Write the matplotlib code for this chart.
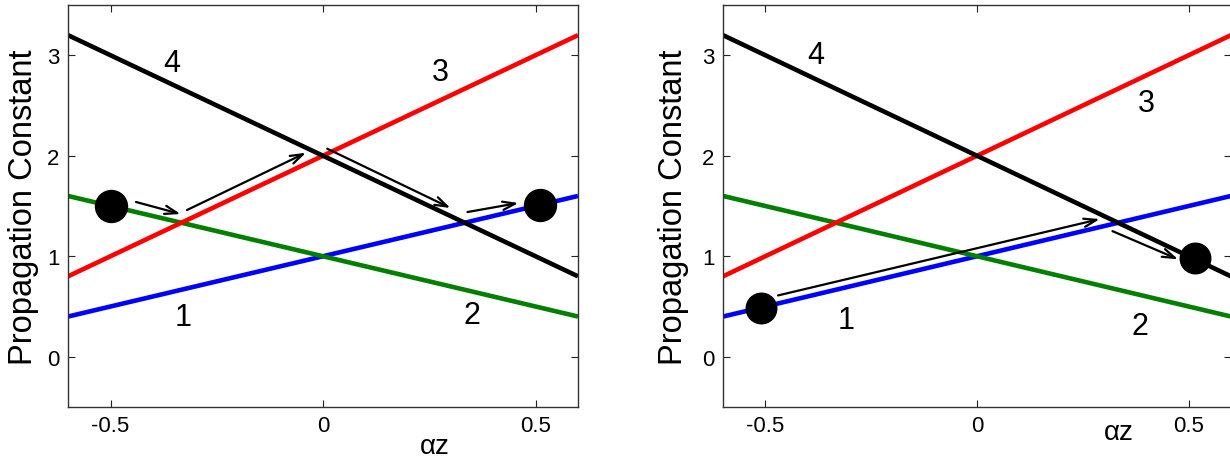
import numpy as np
import matplotlib
matplotlib.use('Agg')
import matplotlib.pyplot as plt

plt.rcParams['font.family'] = ['Liberation Sans', 'DejaVu Sans']

# mode curves, endpoints at az = -0.6 and 0.6
z = [-0.6, 0.6]
beta1 = [0.4, 1.6]
beta2 = [1.6, 0.4]
beta3 = [0.8, 3.2]
beta4 = [3.2, 0.8]
curves = [beta1, beta2, beta3, beta4]
colors = ['#0000ff', '#007f00', '#ff0000', '#000000']

# left panel: start/end dots, arrows and curve numbers
dots_left_z = [-0.5, 0.51]
dots_left_b = [1.5, 1.51]
arrows_left = [((-0.44, 1.54), (-0.335, 1.42)),
               ((-0.32, 1.46), (-0.04, 2.03)),
               ((0.01, 2.07), (0.30, 1.48)),
               ((0.34, 1.44), (0.46, 1.53))]
labels_left = [('1', -0.33, 0.40), ('2', 0.35, 0.42), ('3', 0.276, 2.83), ('4', -0.355, 2.92)]

# right panel
dots_right_z = [-0.51, 0.515]
dots_right_b = [0.49, 0.98]
arrows_right = [((-0.47, 0.61), (0.29, 1.37)),
                ((0.32, 1.25), (0.475, 0.97))]
labels_right = [('1', -0.31, 0.37), ('2', 0.385, 0.31), ('3', 0.40, 2.52), ('4', -0.38, 3.0)]

fig = plt.figure(figsize=(12.3, 4.6), dpi=100)
ax1 = fig.add_axes([68/1230, 52/460, 510/1230, 402/460])
ax2 = fig.add_axes([723/1230, 52/460, 508/1230, 402/460])


def draw(ax, dz, db, arrows, labels, xlab_pos, ylab_x, msize):
    for b, c in zip(curves, colors):
        ax.plot(z, b, color=c, lw=3.3, solid_capstyle='butt')
    ax.plot(dz, db, 'o', color='black', ms=msize, zorder=5)
    for (x0, y0), (x1, y1) in arrows:
        ax.annotate('', xy=(x1, y1), xytext=(x0, y0),
                    arrowprops=dict(arrowstyle='->,head_length=0.9,head_width=0.3',
                                    color='black', lw=1.6, shrinkA=0, shrinkB=0),
                    zorder=6)
    for t, x, y in labels:
        ax.text(x, y, t, fontsize=22, ha='center', va='center')
    ax.set_xlim(-0.6, 0.6)
    ax.set_ylim(-0.5, 3.5)
    ax.set_xticks([-0.5, 0, 0.5])
    ax.set_xticklabels(['-0.5', '0', '0.5'])
    ax.set_yticks([0, 1, 2, 3])
    ax.tick_params(direction='in', top=True, right=True, length=5, width=0.8,
                   labelsize=16, pad=6, colors='#222222', labelcolor='black')
    for s in ax.spines.values():
        s.set_color('#333333')
        s.set_linewidth(1.0)
    ax.set_xlabel('αz', fontsize=20)
    ax.xaxis.set_label_coords(*xlab_pos)
    ax.xaxis.label.set_verticalalignment('center')
    ax.set_ylabel('Propagation Constant', fontsize=23.5)
    ax.yaxis.set_label_coords(ylab_x, 0.5)
    ax.yaxis.label.set_verticalalignment('center')


draw(ax1, dots_left_z, dots_left_b, arrows_left, labels_left, (0.72, -0.097), -0.088, 23)
draw(ax2, dots_right_z, dots_right_b, arrows_right, labels_right, (0.78, -0.062), -0.098, 22)

fig.savefig('out.png', dpi=100)
